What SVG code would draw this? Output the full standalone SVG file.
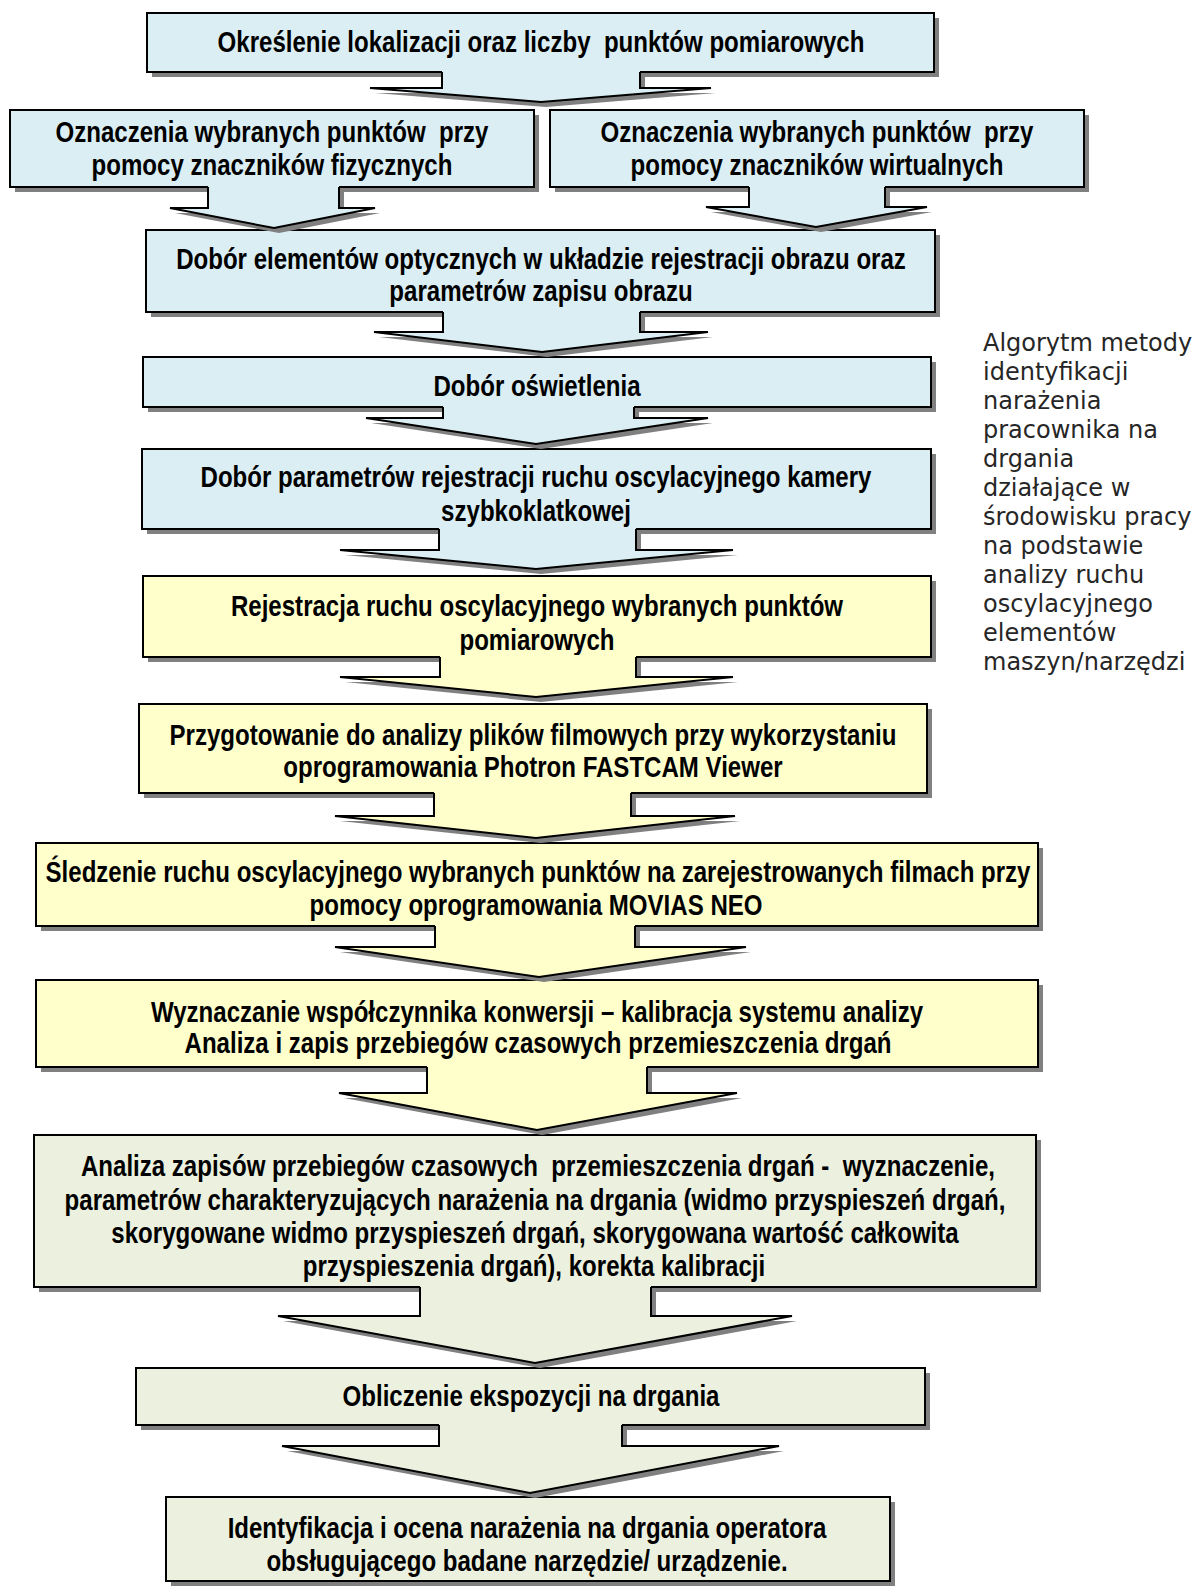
<svg xmlns="http://www.w3.org/2000/svg" width="1200" height="1587" viewBox="0 0 1200 1587">
<style>
.sh{fill:#808080}
.bx{stroke:#000;stroke-width:2}
.ln{fill:none;stroke:#000;stroke-width:2;stroke-linejoin:miter}
.blue{fill:#DAEEF3}
.yel{fill:#FFFFCC}
.grn{fill:#EBF1DE}
.t{font-family:"Liberation Sans",Arial,sans-serif;font-weight:bold;font-size:29px;fill:#000;text-anchor:middle;white-space:pre}
.side{font-family:"DejaVu Sans","Liberation Sans",sans-serif;font-size:24px;fill:#262626}
</style>
<rect width="1200" height="1587" fill="#fff"/>
<g id="nodes">
<g id="nA"><rect class="sh" x="152" y="18" width="787" height="59"/><rect class="bx blue" x="147" y="13" width="787" height="59"/><text class="t" xml:space="preserve" transform="translate(541,0) scale(0.83,1)" x="0" y="52">Określenie lokalizacji oraz liczby  punktów pomiarowych</text></g>
<g id="nB"><rect class="sh" x="15" y="115" width="524" height="77"/><rect class="bx blue" x="10" y="110" width="524" height="77"/><text class="t" xml:space="preserve" transform="translate(272,0) scale(0.83,1)" x="0" y="142">Oznaczenia wybranych punktów  przy</text><text class="t" transform="translate(272,0) scale(0.83,1)" x="0" y="175">pomocy znaczników fizycznych</text></g>
<g id="nC"><rect class="sh" x="555" y="115" width="534" height="77"/><rect class="bx blue" x="550" y="110" width="534" height="77"/><text class="t" xml:space="preserve" transform="translate(817,0) scale(0.83,1)" x="0" y="142">Oznaczenia wybranych punktów  przy</text><text class="t" transform="translate(817,0) scale(0.83,1)" x="0" y="175">pomocy znaczników wirtualnych</text></g>
<g id="nD"><rect class="sh" x="151" y="235" width="789" height="82"/><rect class="bx blue" x="146" y="230" width="789" height="82"/><text class="t" transform="translate(541,0) scale(0.83,1)" x="0" y="269">Dobór elementów optycznych w układzie rejestracji obrazu oraz</text><text class="t" transform="translate(541,0) scale(0.83,1)" x="0" y="301">parametrów zapisu obrazu</text></g>
<g id="nE"><rect class="sh" x="148" y="362" width="788" height="50"/><rect class="bx blue" x="143" y="357" width="788" height="50"/><text class="t" transform="translate(537,0) scale(0.83,1)" x="0" y="396">Dobór oświetlenia</text></g>
<g id="nF"><rect class="sh" x="147" y="454" width="789" height="80"/><rect class="bx blue" x="142" y="449" width="789" height="80"/><text class="t" transform="translate(536,0) scale(0.83,1)" x="0" y="487">Dobór parametrów rejestracji ruchu oscylacyjnego kamery</text><text class="t" transform="translate(536,0) scale(0.83,1)" x="0" y="521">szybkoklatkowej</text></g>
<g id="nG"><rect class="sh" x="148" y="581" width="788" height="81"/><rect class="bx yel" x="143" y="576" width="788" height="81"/><text class="t" transform="translate(537,0) scale(0.83,1)" x="0" y="616">Rejestracja ruchu oscylacyjnego wybranych punktów</text><text class="t" transform="translate(537,0) scale(0.83,1)" x="0" y="650">pomiarowych</text></g>
<g id="nH"><rect class="sh" x="144" y="709" width="788" height="89"/><rect class="bx yel" x="139" y="704" width="788" height="89"/><text class="t" transform="translate(533,0) scale(0.83,1)" x="0" y="745">Przygotowanie do analizy plików filmowych przy wykorzystaniu</text><text class="t" transform="translate(533,0) scale(0.83,1)" x="0" y="777">oprogramowania Photron FASTCAM Viewer</text></g>
<g id="nI"><rect class="sh" x="41" y="848" width="1002" height="83"/><rect class="bx yel" x="36" y="843" width="1002" height="83"/><text class="t" transform="translate(538,0) scale(0.83,1)" x="0" y="882">Śledzenie ruchu oscylacyjnego wybranych punktów na zarejestrowanych filmach przy</text><text class="t" transform="translate(536,0) scale(0.83,1)" x="0" y="915">pomocy oprogramowania MOVIAS NEO</text></g>
<g id="nJ"><rect class="sh" x="41" y="985" width="1002" height="87"/><rect class="bx yel" x="36" y="980" width="1002" height="87"/><text class="t" transform="translate(537,0) scale(0.83,1)" x="0" y="1022">Wyznaczanie współczynnika konwersji – kalibracja systemu analizy</text><text class="t" transform="translate(538,0) scale(0.83,1)" x="0" y="1053">Analiza i zapis przebiegów czasowych przemieszczenia drgań</text></g>
<g id="nK"><rect class="sh" x="39" y="1140" width="1002" height="152"/><rect class="bx grn" x="34" y="1135" width="1002" height="152"/><text class="t" xml:space="preserve" transform="translate(538,0) scale(0.83,1)" x="0" y="1176">Analiza zapisów przebiegów czasowych  przemieszczenia drgań -  wyznaczenie,</text><text class="t" transform="translate(535,0) scale(0.83,1)" x="0" y="1210">parametrów charakteryzujących narażenia na drgania (widmo przyspieszeń drgań,</text><text class="t" transform="translate(535,0) scale(0.83,1)" x="0" y="1243">skorygowane widmo przyspieszeń drgań, skorygowana wartość całkowita</text><text class="t" transform="translate(534,0) scale(0.83,1)" x="0" y="1276">przyspieszenia drgań), korekta kalibracji</text></g>
<g id="nL"><rect class="sh" x="141" y="1373" width="789" height="57"/><rect class="bx grn" x="136" y="1368" width="789" height="57"/><text class="t" transform="translate(531,0) scale(0.83,1)" x="0" y="1406">Obliczenie ekspozycji na drgania</text></g>
<g id="nM"><rect class="sh" x="171" y="1502" width="724" height="84"/><rect class="bx grn" x="166" y="1497" width="724" height="84"/><text class="t" transform="translate(527,0) scale(0.83,1)" x="0" y="1538">Identyfikacja i ocena narażenia na drgania operatora</text><text class="t" transform="translate(527,0) scale(0.83,1)" x="0" y="1571">obsługującego badane narzędzie/ urządzenie.</text></g>
</g>
<g id="connectors">
<g id="aA"><path class="sh" transform="translate(5,5)" d="M442,72 L640,72 L640,88 L711,88 L541,102 L370,88 L442,88 Z"/><path class="blue" d="M442,70 L640,70 L640,88 L711,88 L541,102 L370,88 L442,88 Z"/><path class="ln" d="M640,72 L640,88 L711,88 L541,102 L370,88 L442,88 L442,72"/></g>
<g id="aB"><path class="sh" transform="translate(5,5)" d="M208,187 L339,187 L339,208 L375,208 L274,228 L170,208 L208,208 Z"/><path class="blue" d="M208,185 L339,185 L339,208 L375,208 L274,228 L170,208 L208,208 Z"/><path class="ln" d="M339,187 L339,208 L375,208 L274,228 L170,208 L208,208 L208,187"/></g>
<g id="aC"><path class="sh" transform="translate(5,5)" d="M749,187 L885,187 L885,207 L927,207 L816,227 L706,207 L749,207 Z"/><path class="blue" d="M749,185 L885,185 L885,207 L927,207 L816,227 L706,207 L749,207 Z"/><path class="ln" d="M885,187 L885,207 L927,207 L816,227 L706,207 L749,207 L749,187"/></g>
<g id="aD"><path class="sh" transform="translate(5,5)" d="M443,312 L640,312 L640,332 L708,332 L542,352 L374,332 L443,332 Z"/><path class="blue" d="M443,310 L640,310 L640,332 L708,332 L542,352 L374,332 L443,332 Z"/><path class="ln" d="M640,312 L640,332 L708,332 L542,352 L374,332 L443,332 L443,312"/></g>
<g id="aE"><path class="sh" transform="translate(5,5)" d="M443,407 L634,407 L634,418 L708,418 L536,444 L366,418 L443,418 Z"/><path class="blue" d="M443,405 L634,405 L634,418 L708,418 L536,444 L366,418 L443,418 Z"/><path class="ln" d="M634,407 L634,418 L708,418 L536,444 L366,418 L443,418 L443,407"/></g>
<g id="aF"><path class="sh" transform="translate(5,5)" d="M439,529 L636,529 L636,550 L733,550 L536,569 L340,550 L439,550 Z"/><path class="blue" d="M439,527 L636,527 L636,550 L733,550 L536,569 L340,550 L439,550 Z"/><path class="ln" d="M636,529 L636,550 L733,550 L536,569 L340,550 L439,550 L439,529"/></g>
<g id="aG"><path class="sh" transform="translate(5,5)" d="M440,657 L636,657 L636,677 L733,677 L536,697 L340,677 L440,677 Z"/><path class="yel" d="M440,655 L636,655 L636,677 L733,677 L536,697 L340,677 L440,677 Z"/><path class="ln" d="M636,657 L636,677 L733,677 L536,697 L340,677 L440,677 L440,657"/></g>
<g id="aH"><path class="sh" transform="translate(5,5)" d="M434,793 L631,793 L631,816 L735,816 L536,838 L335,816 L434,816 Z"/><path class="yel" d="M434,791 L631,791 L631,816 L735,816 L536,838 L335,816 L434,816 Z"/><path class="ln" d="M631,793 L631,816 L735,816 L536,838 L335,816 L434,816 L434,793"/></g>
<g id="aI"><path class="sh" transform="translate(5,5)" d="M435,926 L635,926 L635,947 L746,947 L539,977 L335,947 L435,947 Z"/><path class="yel" d="M435,924 L635,924 L635,947 L746,947 L539,977 L335,947 L435,947 Z"/><path class="ln" d="M635,926 L635,947 L746,947 L539,977 L335,947 L435,947 L435,926"/></g>
<g id="aJ"><path class="sh" transform="translate(5,5)" d="M427,1067 L647,1067 L647,1093 L737,1093 L537,1130 L339,1093 L427,1093 Z"/><path class="yel" d="M427,1065 L647,1065 L647,1093 L737,1093 L537,1130 L339,1093 L427,1093 Z"/><path class="ln" d="M647,1067 L647,1093 L737,1093 L537,1130 L339,1093 L427,1093 L427,1067"/></g>
<g id="aK"><path class="sh" transform="translate(5,5)" d="M420,1287 L651,1287 L651,1316 L792,1316 L535,1363 L278,1316 L420,1316 Z"/><path class="grn" d="M420,1285 L651,1285 L651,1316 L792,1316 L535,1363 L278,1316 L420,1316 Z"/><path class="ln" d="M651,1287 L651,1316 L792,1316 L535,1363 L278,1316 L420,1316 L420,1287"/></g>
<g id="aL"><path class="sh" transform="translate(5,5)" d="M439,1425 L622,1425 L622,1446 L779,1446 L530,1493 L282,1446 L439,1446 Z"/><path class="grn" d="M439,1423 L622,1423 L622,1446 L779,1446 L530,1493 L282,1446 L439,1446 Z"/><path class="ln" d="M622,1425 L622,1446 L779,1446 L530,1493 L282,1446 L439,1446 L439,1425"/></g>
</g>
<g id="caption">
<text class="side" x="983" y="351">Algorytm metody</text>
<text class="side" x="983" y="380">identyfikacji</text>
<text class="side" x="983" y="409">narażenia</text>
<text class="side" x="983" y="438">pracownika na</text>
<text class="side" x="983" y="467">drgania</text>
<text class="side" x="983" y="496">działające w</text>
<text class="side" x="983" y="525">środowisku pracy</text>
<text class="side" x="983" y="554">na podstawie</text>
<text class="side" x="983" y="583">analizy ruchu</text>
<text class="side" x="983" y="612">oscylacyjnego</text>
<text class="side" x="983" y="641">elementów</text>
<text class="side" x="983" y="670">maszyn/narzędzi</text>
</g>
</svg>
